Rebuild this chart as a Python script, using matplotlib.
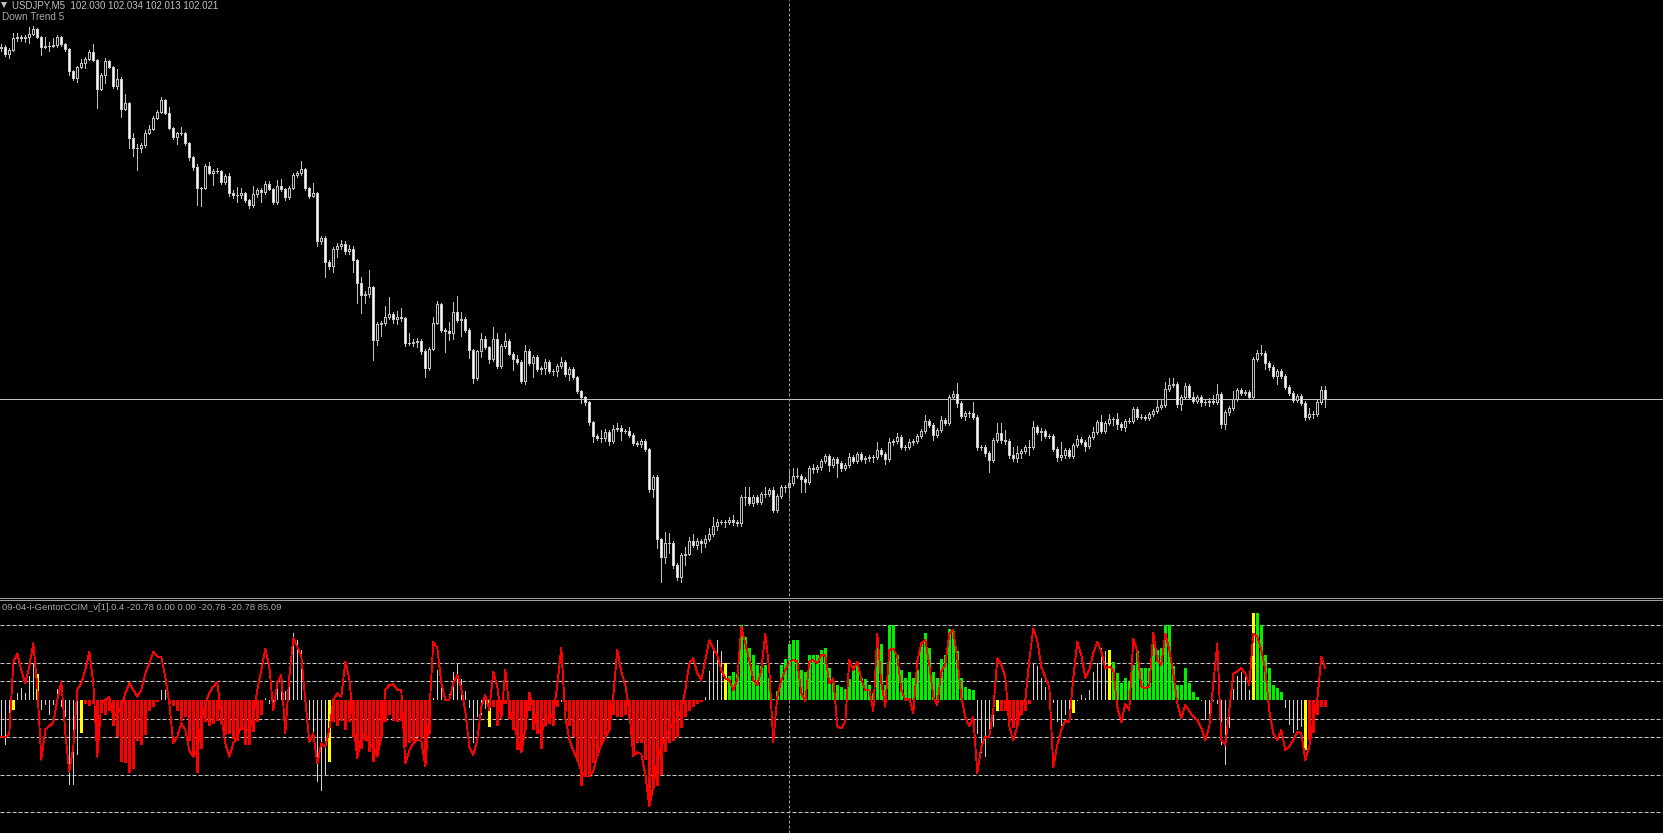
import numpy as np
import matplotlib
matplotlib.use("Agg")
import matplotlib.pyplot as plt
from matplotlib.lines import Line2D

W, H, DPI = 1663, 833, 100

# ---------------- data ----------------
symbol = "USDJPY,M5"
ohlc_header = ["102.030", "102.034", "102.013", "102.021"]
chart_comment = "Down Trend 5"
indicator_name = "09-04-i-GentorCCIM_v[1].0.4"
indicator_values = ["-20.78", "0.00", "0.00", "-20.78", "-20.78", "85.09"]

price_base = 101.0          # prices stored in points (0.001) above this base
open_first_pts = 1372
close_pts = [
    1373, 1366, 1370, 1382, 1383, 1382, 1383, 1386, 1391, 1383,
    1373, 1374, 1374, 1375, 1383, 1376, 1371, 1349, 1342, 1353,
    1357, 1361, 1368, 1360, 1331, 1345, 1359, 1353, 1334, 1341,
    1311, 1317, 1282, 1272, 1272, 1275, 1287, 1291, 1302, 1308,
    1320, 1307, 1292, 1283, 1287, 1287, 1277, 1263, 1253, 1232,
    1232, 1254, 1247, 1249, 1249, 1238, 1244, 1227, 1225, 1225,
    1227, 1220, 1215, 1226, 1230, 1228, 1236, 1231, 1218, 1234,
    1231, 1223, 1232, 1245, 1247, 1251, 1232, 1224, 1227, 1179,
    1182, 1158, 1154, 1171, 1174, 1176, 1169, 1171, 1160, 1137,
    1125, 1126, 1133, 1080, 1096, 1097, 1103, 1106, 1101, 1103,
    1102, 1077, 1077, 1078, 1079, 1069, 1052, 1071, 1097, 1116,
    1090, 1089, 1087, 1108, 1100, 1101, 1090, 1070, 1042, 1069,
    1081, 1073, 1061, 1081, 1054, 1074, 1079, 1066, 1061, 1058,
    1039, 1069, 1057, 1063, 1051, 1052, 1058, 1049, 1049, 1054,
    1058, 1046, 1051, 1043, 1029, 1023, 1018, 998, 984, 982,
    982, 988, 979, 991, 992, 989, 989, 985, 977, 976,
    979, 971, 931, 943, 881, 863, 877, 877, 855, 843,
    865, 866, 879, 875, 879, 877, 881, 886, 894, 898,
    898, 898, 900, 898, 897, 923, 923, 917, 923, 918,
    926, 926, 930, 910, 924, 933, 933, 937, 944, 944,
    941, 938, 952, 951, 953, 959, 964, 955, 961, 957,
    952, 955, 963, 959, 966, 961, 962, 963, 963, 970,
    966, 961, 978, 979, 983, 973, 973, 978, 979, 984,
    989, 999, 995, 985, 990, 1000, 997, 1023, 1026, 1017,
    1004, 1007, 1007, 1003, 973, 973, 967, 960, 980, 987,
    980, 979, 965, 962, 967, 969, 973, 973, 993, 988,
    989, 984, 984, 971, 963, 965, 970, 964, 975, 981,
    978, 974, 983, 988, 998, 989, 997, 1001, 1001, 996,
    993, 999, 999, 1011, 1003, 1003, 1002, 1006, 1009, 1013,
    1015, 1031, 1035, 1036, 1016, 1023, 1034, 1023, 1019, 1023,
    1018, 1018, 1019, 1018, 1026, 996, 1008, 1012, 1021, 1030,
    1027, 1028, 1023, 1061, 1067, 1067, 1057, 1053, 1044, 1049,
    1044, 1033, 1027, 1020, 1024, 1017, 1003, 1006, 1006, 1018,
    1030, 1021,
]
upper_wick_pts = [
    3, 2, 2, 5, 4, 2, 2, 7, 3, 1,
    1, 9, 4, 7, 2, 1, 1, 1, 1, 1,
    4, 2, 2, 8, 1, 2, 3, 1, 1, 10,
    2, 9, 1, 5, 4, 2, 3, 4, 2, 2,
    3, 1, 6, 1, 1, 6, 1, 1, 1, 3,
    1, 2, 4, 2, 3, 1, 2, 3, 3, 8,
    5, 1, 1, 8, 2, 2, 3, 3, 1, 6,
    7, 1, 2, 2, 2, 8, 1, 1, 10, 1,
    2, 2, 2, 2, 3, 4, 3, 4, 3, 1,
    6, 3, 17, 1, 2, 2, 11, 17, 2, 6,
    9, 1, 10, 3, 3, 2, 2, 2, 6, 3,
    1, 2, 9, 10, 16, 7, 2, 2, 1, 1,
    6, 3, 1, 12, 6, 2, 8, 2, 2, 4,
    2, 6, 2, 2, 2, 2, 3, 2, 2, 2,
    5, 2, 2, 2, 1, 1, 1, 1, 1, 2,
    8, 3, 2, 4, 5, 3, 2, 4, 2, 2,
    2, 2, 1, 2, 2, 1, 11, 10, 2, 2,
    2, 7, 4, 7, 3, 2, 4, 6, 9, 3,
    2, 2, 3, 5, 2, 2, 10, 10, 2, 2,
    2, 7, 2, 3, 2, 2, 2, 12, 8, 8,
    2, 2, 2, 4, 2, 2, 2, 2, 2, 2,
    2, 2, 4, 2, 2, 2, 2, 2, 2, 8,
    2, 2, 4, 2, 4, 2, 2, 3, 2, 2,
    2, 6, 2, 2, 2, 4, 2, 2, 3, 11,
    2, 2, 2, 11, 2, 2, 2, 2, 2, 10,
    10, 10, 2, 8, 7, 2, 2, 7, 6, 2,
    3, 2, 2, 2, 2, 13, 2, 2, 2, 4,
    2, 2, 2, 5, 2, 7, 2, 5, 2, 6,
    2, 2, 3, 2, 2, 3, 2, 2, 2, 7,
    6, 7, 7, 6, 2, 2, 3, 2, 5, 2,
    2, 2, 3, 6, 10, 2, 2, 2, 8, 2,
    2, 2, 2, 2, 3, 8, 2, 2, 2, 2,
    2, 2, 2, 2, 2, 2, 2, 6, 3, 2,
    4, 4,
]
lower_wick_pts = [
    3, 2, 4, 1, 3, 3, 4, 6, 1, 1,
    8, 1, 5, 1, 2, 2, 2, 4, 2, 4,
    1, 5, 1, 1, 19, 1, 8, 1, 2, 3,
    8, 1, 10, 8, 22, 4, 2, 1, 1, 1,
    1, 1, 1, 2, 7, 2, 2, 3, 3, 17,
    18, 1, 1, 12, 2, 2, 2, 3, 3, 7,
    3, 2, 3, 2, 3, 10, 2, 1, 2, 2,
    2, 3, 2, 1, 2, 2, 2, 2, 1, 5,
    3, 15, 3, 6, 8, 3, 3, 3, 12, 20,
    18, 8, 3, 20, 5, 12, 2, 2, 4, 5,
    3, 3, 2, 3, 5, 3, 9, 2, 1, 1,
    2, 21, 7, 6, 2, 16, 2, 8, 5, 2,
    6, 2, 4, 2, 2, 2, 2, 1, 11, 2,
    2, 3, 2, 14, 2, 5, 6, 2, 4, 5,
    2, 2, 6, 2, 2, 6, 3, 3, 6, 2,
    4, 3, 4, 2, 2, 9, 2, 2, 2, 2,
    3, 2, 3, 8, 9, 25, 6, 10, 3, 3,
    5, 10, 1, 2, 4, 9, 4, 2, 2, 4,
    2, 5, 2, 3, 3, 3, 8, 2, 3, 2,
    2, 3, 2, 2, 2, 2, 5, 10, 2, 2,
    13, 10, 2, 4, 3, 3, 2, 6, 2, 14,
    3, 2, 2, 2, 2, 2, 4, 3, 5, 2,
    2, 5, 2, 3, 2, 2, 3, 2, 3, 2,
    2, 2, 2, 5, 2, 2, 2, 2, 2, 4,
    2, 4, 4, 2, 3, 3, 3, 12, 2, 2,
    3, 3, 3, 3, 4, 5, 2, 8, 2, 2,
    8, 2, 2, 2, 4, 3, 3, 2, 2, 2,
    2, 5, 2, 2, 2, 2, 2, 2, 6, 5,
    3, 4, 2, 2, 2, 2, 2, 2, 2, 2,
    2, 2, 2, 2, 3, 6, 2, 2, 2, 2,
    4, 3, 4, 2, 2, 4, 5, 3, 2, 2,
    2, 2, 2, 2, 2, 2, 6, 3, 2, 8,
    2, 2, 2, 2, 2, 2, 3, 2, 4, 2,
    2, 8,
]
bid_line_pts = 1021

cci_levels = [200, 100, 50, -50, -100, -200, -300]
hist_values = [
    -98, -120, -60, -27, 20, 31, 18, 64, 96, 70,
    -27, -13, -40, -13, 30, -18, -45, -228, -228, -147,
    -89, -12, -15, -10, -134, -35, -40, -30, -70, -100,
    -165, -170, -196, -185, -110, -120, -95, -30, -20, -5,
    27, 27, -10, -15, -30, -55, -45, -110, -150, -196,
    -130, -60, -70, -65, -55, -65, -95, -90, -105, -110,
    -80, -120, -120, -85, -60, -40, 5, -10, -20, 35,
    40, 25, 70, 180, 160, 135, -30, -50, -100, -220,
    -245, -200, -165, -60, -70, -55, -80, -60, -100, -150,
    -130, -110, -140, -165, -140, -100, -60, -40, -55, -60,
    -55, -125, -115, -110, -100, -105, -175, -90, 5, 80,
    32, 10, 15, 75, 100, 55, 25, -22, -116, -45,
    -40, -25, -71, -20, -70, -40, -10, -50, -80, -135,
    -140, -80, -30, -80, -90, -130, -70, -65, -70, -20,
    -5, -30, -70, -100, -160, -230, -200, -200, -170, -150,
    -120, -95, -80, -40, -45, -45, -40, -50, -140, -115,
    -115, -160, -285, -235, -230, -200, -140, -115, -110, -100,
    -75, -45, -30, -20, -12, -5, 8, 78, 135, 160,
    130, 100, 65, 75, 70, 200, 170, 140, 120, 95,
    90, 95, 60, 2, 25, 95, 110, 150, 160, 160,
    80, 75, 120, 120, 120, 135, 140, 85, 45, 40,
    35, 30, 55, 90, 100, 60, 55, 40, 20, 170,
    150, 40, 200, 200, 120, 80, 60, 75, 60, 80,
    150, 180, 140, 75, 60, 110, 120, 190, 185, 130,
    60, 35, 30, 28, -90, -143, -152, -98, -71, -30,
    -30, -30, -60, -75, -70, -40, -30, -10, 100, 90,
    60, 35, 25, -7, -58, -70, -40, -30, -36, -3,
    13, 5, 27, 76, 100, 138, 130, 134, 103, 71,
    45, 58, 49, 94, 130, 85, 85, 85, 150, 135,
    140, 200, 200, 90, 40, 40, 85, 45, 22, 8,
    -3, -54, -45, -2, -10, -120, -174, -76, 30, 63,
    76, 76, 27, 232, 232, 201, 120, 85, 40, 32,
    22, -22, -67, -89, -80, -71, -134, -107, -89, -40,
    -18, -20,
]
# colour state of each histogram bar: W neutral, Y signal, R down, G up
hist_color_runs = [
    ("W", 3), ("Y", 1), ("W", 5), ("Y", 1), ("W", 10), ("Y", 1), ("R", 19),
    ("W", 2), ("R", 24), ("W", 16), ("Y", 1), ("R", 25), ("W", 14), ("Y", 1),
    ("R", 17), ("W", 1), ("R", 35), ("W", 5), ("Y", 1), ("G", 62), ("W", 5),
    ("Y", 1), ("R", 8), ("W", 10), ("Y", 1), ("W", 8), ("Y", 1), ("G", 22),
    ("W", 13), ("Y", 1), ("G", 7), ("W", 5), ("Y", 1), ("R", 5),
]
cci_line = [
    -98, -100, -90, 100, 125, 80, 45, 90, 152, 36,
    -160, -80, -70, -60, 0, 50, -89, -192, -125, 27,
    45, 80, 130, 45, -152, -9, 0, 9, -45, -36,
    -18, 18, 45, 27, 9, 27, 71, 98, 130, 116,
    116, 62, -9, -116, -98, -62, -80, -134, -152, -134,
    -62, -9, 18, 36, 49, -45, -116, -152, -116, -98,
    -71, -80, -80, -45, 27, 80, 138, 89, -27, 45,
    67, -89, 62, 165, 143, 116, 0, -112, -89, -170,
    -116, -125, -80, 0, 18, 9, 103, 58, -62, -156,
    -98, -89, -116, -125, -152, -98, 27, 40, 42, 27,
    27, -170, -135, -116, -105, -110, -178, -36, 156, 140,
    45, 0, 0, 45, 67, 31, -30, -125, -147, -107,
    -18, 13, -27, 76, 36, -50, 80, -20, -60, -100,
    -140, -80, 20, -20, -75, -90, -55, -50, -35, 40,
    140, -45, -105, -135, -160, -190, -205, -205, -190, -150,
    -120, -100, -80, 10, 135, 75, 40, -30, -150, -140,
    -145, -200, -285, -232, -161, -125, -98, -80, -62, -49,
    -27, 27, 98, 112, 71, 54, 107, 160, 138, 120,
    80, 58, 54, 27, 54, 196, 152, 107, 54, 40,
    80, 178, 80, -112, 9, 54, 80, 103, 107, 103,
    18, -4, 103, 107, 98, 120, 120, 45, 58, -71,
    -76, -58, 107, 80, 103, 54, 27, 27, -31, 178,
    45, -18, 134, 138, 116, 27, 0, 4, -36, 103,
    152, 161, 94, 9, -13, 76, 94, 178, 187, 112,
    9, -45, -71, -45, -196, -125, -98, -98, -27, 112,
    94, 62, -71, -107, -71, -18, 0, 107, 192, 160,
    89, 60, 35, -180, -120, -80, -55, -60, 60, 156,
    120, 60, 80, 125, 156, 130, 85, 90, 80, -18,
    -60, -10, -27, 165, 130, 36, 32, 36, 180, 107,
    94, 178, 134, 71, -9, -49, -13, -30, -45, -54,
    -75, -107, -71, 45, 152, -107, -120, -27, 71, 76,
    85, 71, 40, 178, 170, 134, 80, -30, -90, -107,
    -80, -134, -125, -107, -85, -89, -161, -125, -54, 0,
    116, 85,
]
crosshair_bar = 197

# ---------------- preparation ----------------
n = len(close_pts)
assert len(upper_wick_pts) == n and len(lower_wick_pts) == n
assert len(hist_values) == n and len(cci_line) == n
hist_colors = "".join(c * m for c, m in hist_color_runs)
assert len(hist_colors) == n

k = np.arange(n)
c_pts = np.array(close_pts, float)
o_pts = np.concatenate([[open_first_pts], c_pts[:-1]])
hi_pts = np.maximum(o_pts, c_pts) + np.array(upper_wick_pts)
lo_pts = np.minimum(o_pts, c_pts) - np.array(lower_wick_pts)
to_price = lambda p: price_base + np.asarray(p) / 1000.0
o, c, hi, lo = map(to_price, (o_pts, c_pts, hi_pts, lo_pts))

PX = 0.72  # one pixel in points at 100 dpi

fig = plt.figure(figsize=(W / DPI, H / DPI), dpi=DPI, facecolor="black")
main_h = 596
ind_top = 601
ax1 = fig.add_axes([0, 1 - main_h / H, 1, main_h / H])
ax2 = fig.add_axes([0, 0, 1, (H - ind_top) / H])
for ax in (ax1, ax2):
    ax.set_facecolor("black")
    ax.set_axis_off()
    ax.set_xlim(-1.3 / 4, (W - 1.3) / 4)

# main price panel: 1 pixel = 1 point
ax1.set_ylim(to_price(1420 - main_h), to_price(1420))

ax1.vlines(k, lo, hi, color="#C0C0C0", lw=PX, antialiased=False, zorder=2)
bull = c > o
body_bottom = np.minimum(o, c)
body_h = np.abs(c - o)
ax1.bar(k[bull], body_h[bull], bottom=body_bottom[bull], width=0.5,
        facecolor="black", edgecolor="#C0C0C0", linewidth=PX,
        antialiased=False, zorder=3)
ax1.bar(k[~bull], body_h[~bull], bottom=body_bottom[~bull], width=0.5,
        facecolor="#FFFFFF", edgecolor="#C8C8C8", linewidth=PX,
        antialiased=False, zorder=3)
ax1.axhline(to_price(bid_line_pts), color="#C0C0C0", lw=PX, zorder=1)

# indicator panel
units_per_px = 50 / 18.667
ax2.set_ylim(-(H - 700) * units_per_px, (700 - ind_top) * units_per_px)
for lev in cci_levels:
    ax2.axhline(lev, color="#C8C8C8", lw=PX, dashes=(4, 2), zorder=1)

hv = np.array(hist_values, float)
col_map = {"W": "#D0D0D0", "Y": "#FFFF00", "R": "#FF0000", "G": "#00F000"}
width_map = {"W": 0.25, "Y": 0.8, "R": 0.8, "G": 0.8}
hc = np.array(list(hist_colors))
for key in "WRGY":
    m = hc == key
    ax2.bar(k[m], hv[m], width=width_map[key], color=col_map[key],
            linewidth=0, antialiased=(key != "W"), zorder=2)
ax2.plot(k, cci_line, color="#FF0000", lw=0.6, antialiased=False, zorder=4)

for ax in (ax1, ax2):
    ax.axvline(crosshair_bar, color="#A0A0A0", lw=PX, dashes=(3, 2), zorder=5)

# separator between panels
for yy in (597.5, 599.5):
    fig.add_artist(Line2D([0, 1], [1 - yy / H, 1 - yy / H], color="#A0A0A0",
                          lw=PX, transform=fig.transFigure))

# texts
def ftxt(x, y, s, color, size=7):
    fig.text(x / W, 1 - y / H, s, color=color, fontsize=size,
             family=["Liberation Sans", "DejaVu Sans"], ha="left", va="center")

fig.add_artist(Line2D([4 / W], [1 - 4.5 / H], marker="v", markersize=4.5,
                      color="#C0C0C0", markeredgewidth=0,
                      transform=fig.transFigure))
ftxt(12, 5, symbol + "  " + " ".join(ohlc_header), "#C0C0C0", 7.0)
ftxt(1.5, 17, chart_comment, "#A8A8A8", 7.2)
ftxt(2, 608, indicator_name + " " + " ".join(indicator_values), "#A8A8A8", 6.8)

fig.savefig("out.png", dpi=DPI, facecolor="black")
